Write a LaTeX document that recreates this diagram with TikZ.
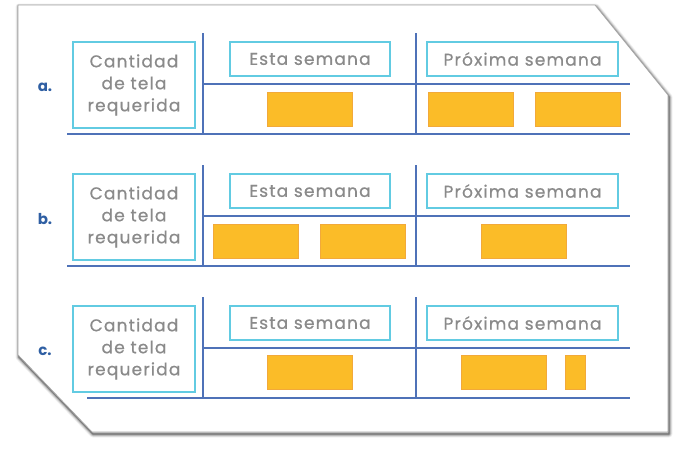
\documentclass[tikz,border=0pt]{standalone}
\usepackage{fontspec}
\setmainfont{Poppins}
\newfontfamily\hfont[LetterSpace=7,FakeBold=0.7]{Poppins}
\definecolor{rulec}{HTML}{4F72B8}
\definecolor{cyanc}{HTML}{62CBE2}
\definecolor{txtc}{HTML}{8A8A8A}
\definecolor{orangec}{HTML}{FBBC28}
\definecolor{orangeb}{HTML}{F2A93A}
\definecolor{labc}{HTML}{2F5FA3}
\begin{document}
\begin{tikzpicture}[x=1pt,y=-1pt,
  hdr/.style={draw=cyanc,line width=1.3pt,text=txtc,font=\hfont\fontsize{17}{22}\selectfont,inner sep=0pt,align=center},
  qbox/.style={hdr,minimum width=122pt,minimum height=86pt},
  wbox/.style={hdr,minimum height=34pt},
  orect/.style={fill=orangec,draw=orangeb,line width=0.6pt},
  rulel/.style={draw=rulec,line width=1.6pt},
  rowlbl/.style={text=labc,font=\bfseries\fontsize{15}{15}\selectfont,inner sep=0pt}]
\useasboundingbox (0,0) rectangle (683,471);
% frame with soft shadow
\foreach \o/\op in {7/0.05,5.5/0.08,4/0.12,2.5/0.18,1.2/0.25}{
  \draw[line width=\o pt,draw=black,opacity=\op,line join=round]
    (18+1,5+2) -- (595+1,5+2) -- (668+1,95+2) -- (668+1,432+2) -- (92+1,432+2) -- (18+1,355+2) -- cycle;
}
\draw[fill=white,draw=gray!70,line width=0.8pt]
  (18,5) -- (595,5) -- (668,95) -- (668,432) -- (92,432) -- (18,355) -- cycle;
% rows
\foreach \r/\d/\bx in {a/0/67,b/132/67,c/264/87}{
  \node[rowlbl] (l\r) at (45,87+\d) {\r.};
  \node[qbox] (q\r) at (134,85+\d) {Cantidad\\de tela\\requerida};
  \node[wbox,minimum width=160pt] (e\r) at (310,59+\d) {Esta semana};
  \node[wbox,minimum width=191pt] (p\r) at (522.5,59+\d) {Próxima semana};
  \coordinate (v1t\r) at (203,33+\d);
  \coordinate (v1b\r) at (203,135+\d);
  \coordinate (v2t\r) at (416,33+\d);
  \coordinate (v2b\r) at (416,135+\d);
  \coordinate (ml\r) at (203,84+\d);
  \coordinate (mr\r) at (630,84+\d);
  \coordinate (bl\r) at (\bx,134+\d);
  \coordinate (br\r) at (630,134+\d);
  \draw[rulel] (v1t\r) -- (v1b\r);
  \draw[rulel] (v2t\r) -- (v2b\r);
  \draw[rulel] (ml\r) -- (mr\r);
  \draw[rulel] (bl\r) -- (br\r);
}
% orange amounts
\draw[orect] (267,92) rectangle (352,126);
\draw[orect] (428,92) rectangle (513,126);
\draw[orect] (535,92) rectangle (620,126);
\draw[orect] (213,224) rectangle (298,258);
\draw[orect] (320,224) rectangle (405,258);
\draw[orect] (481,224) rectangle (566,258);
\draw[orect] (267,355) rectangle (352,389);
\draw[orect] (461,355) rectangle (546,389);
\draw[orect] (565,355) rectangle (585,389);
\end{tikzpicture}
\end{document}
